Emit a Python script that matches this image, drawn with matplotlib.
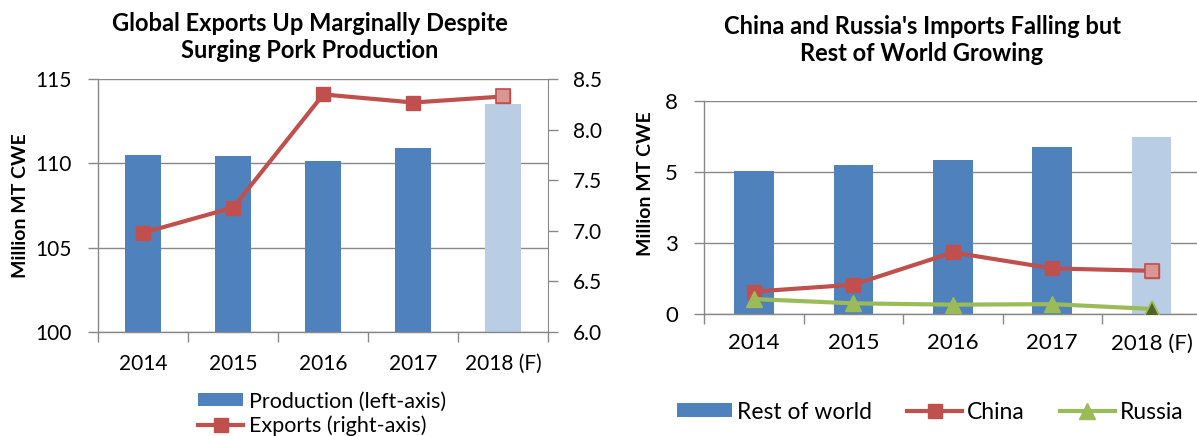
import matplotlib.pyplot as plt
from matplotlib.lines import Line2D
from matplotlib.patches import Patch

plt.rcParams['font.family'] = ['Lato', 'DejaVu Sans']

# ---- data ----
years = ["2014", "2015", "2016", "2017", "2018 (F)"]

production = [110.5, 110.42, 110.12, 110.93, 113.53]   # left axis
exports = [6.98, 7.23, 8.35, 8.27, 8.33]               # right axis

rest_of_world = [5.37, 5.60, 5.79, 6.26, 6.62]
china = [0.84, 1.10, 2.31, 1.71, 1.62]
russia = [0.56, 0.40, 0.35, 0.37, 0.19]

# ---- style ----
BLUE = '#4f81bd'
BLUE_F = '#b9cde5'
RED = '#c0504d'
RED_F = '#d99694'
GREEN = '#9bbb59'
GREEN_F = '#4f6228'
GRID = '#888888'
TITLE_FS = 17
LAB_FS = 14

W, H = 1197, 436
fig = plt.figure(figsize=(W / 100, H / 100), dpi=100)


def px_axes(x0, x1, ytop, ybot):
    """Axes placed from pixel coordinates of the reference."""
    return fig.add_axes([x0 / W, (H - ybot) / H, (x1 - x0) / W, (ybot - ytop) / H])


def excel_style(ax, fs, xpad):
    ax.set_xlim(-0.5, len(years) - 0.5)
    ax.set_xticks(range(len(years)))
    ax.set_xticklabels(years, fontsize=fs)
    ax.set_xticks([i - 0.5 for i in range(len(years) + 1)], minor=True)
    ax.tick_params(axis='x', which='major', length=0, pad=xpad)
    ax.tick_params(axis='x', which='minor', length=7, color=GRID, width=1.0, direction='out')
    ax.tick_params(axis='y', length=7, color=GRID, width=1.0, labelsize=fs, pad=12)
    for side in ['top', 'right']:
        ax.spines[side].set_visible(False)
    for side in ['left', 'bottom']:
        ax.spines[side].set_color(GRID)
        ax.spines[side].set_linewidth(1.0)
    ax.yaxis.grid(True, color=GRID, linewidth=1.0)
    ax.set_axisbelow(True)


bar_colors = [BLUE] * (len(years) - 1) + [BLUE_F]
x = range(len(years))

# ================= left chart =================
ax1 = px_axes(98.3, 548.3, 79.3, 331.7)
excel_style(ax1, 15, 16)
ax1.bar(x, [p - 100 for p in production], bottom=100, width=0.4, color=bar_colors, zorder=2)
ax1.set_ylim(100, 115)
ax1.set_yticks([100, 105, 110, 115])
ax1.set_ylabel("Million MT CWE", fontsize=LAB_FS, fontweight='bold')
ax1.yaxis.set_label_coords((29 - 98.3) / 450, 0.5)

ax2 = ax1.twinx()
ax2.set_ylim(6.0, 8.5)
ax2.set_yticks([6.0, 6.5, 7.0, 7.5, 8.0, 8.5])
ax2.set_yticklabels([f"{v:.1f}" for v in ax2.get_yticks()])
ax2.tick_params(axis='y', length=7, color=GRID, width=1.0, labelsize=15, pad=11)
for side in ['top', 'left', 'bottom']:
    ax2.spines[side].set_visible(False)
ax2.spines['right'].set_color(GRID)
ax2.plot(x, exports, color=RED, lw=3, marker='s', ms=10, mfc=RED, mec=RED, zorder=3)
ax2.plot([4], [exports[4]], ls='none', marker='s', ms=10, mfc=RED_F, mec=RED, mew=1.2, zorder=4)

fig.text(310 / W, 1 - 37 / H, "Global Exports Up Marginally Despite\nSurging Pork Production",
         ha='center', va='center', fontsize=TITLE_FS, fontweight='bold', linespacing=1.25)

h_prod = Patch(facecolor=BLUE, label="Production (left-axis)")
h_exp = Line2D([], [], color=RED, lw=3, marker='s', ms=10, label="Exports (right-axis)")
fig.legend(handles=[h_prod, h_exp], loc='center left', bbox_to_anchor=(198 / W, 1 - 414 / H),
           frameon=False, fontsize=15.5, handlelength=2.1, handletextpad=0.25,
           labelspacing=0.2, borderpad=0, borderaxespad=0, handleheight=0.55)

# ================= right chart =================
ax3 = px_axes(704.3, 1201.3, 100.7, 314)
excel_style(ax3, 16, 14)
ax3.bar(x, rest_of_world, width=0.4, color=bar_colors, zorder=2)
ax3.set_ylim(0, 8)
ax3.set_yticks([0, 8 / 3, 16 / 3, 8])
ax3.set_yticklabels([f"{v:.0f}" for v in ax3.get_yticks()])
ax3.set_ylabel("Million MT CWE", fontsize=LAB_FS, fontweight='bold')
ax3.yaxis.set_label_coords((654 - 704.3) / 497, 0.61)

ax3.plot(x, china, color=RED, lw=3, marker='s', ms=10, mfc=RED, mec=RED, zorder=3)
ax3.plot([4], [china[4]], ls='none', marker='s', ms=10, mfc=RED_F, mec=RED, mew=1.2, zorder=4)
ax3.plot(x, russia, color=GREEN, lw=3, marker='^', ms=11, mfc=GREEN, mec=GREEN, zorder=5)
ax3.plot([4], [russia[4]], ls='none', marker='^', ms=11, mfc=GREEN_F, mec=GREEN, mew=1.2, zorder=6)

fig.text(922 / W, 1 - 40 / H, "China and Russia's Imports Falling but\nRest of World Growing",
         ha='center', va='center', fontsize=TITLE_FS, fontweight='bold', linespacing=1.25)

h_row = Patch(facecolor=BLUE, label="Rest of world")
h_chn = Line2D([], [], color=RED, lw=3, marker='s', ms=10, label="China")
h_rus = Line2D([], [], color=GREEN, lw=3, marker='^', ms=11, label="Russia")
fig.legend(handles=[h_row, h_chn, h_rus], loc='center left', bbox_to_anchor=(677 / W, 1 - 412 / H),
           ncol=3, frameon=False, fontsize=16.5, handlelength=2.4, handletextpad=0.2,
           columnspacing=1.55, borderpad=0, borderaxespad=0, handleheight=0.55)

fig.savefig("out.png", dpi=100)
